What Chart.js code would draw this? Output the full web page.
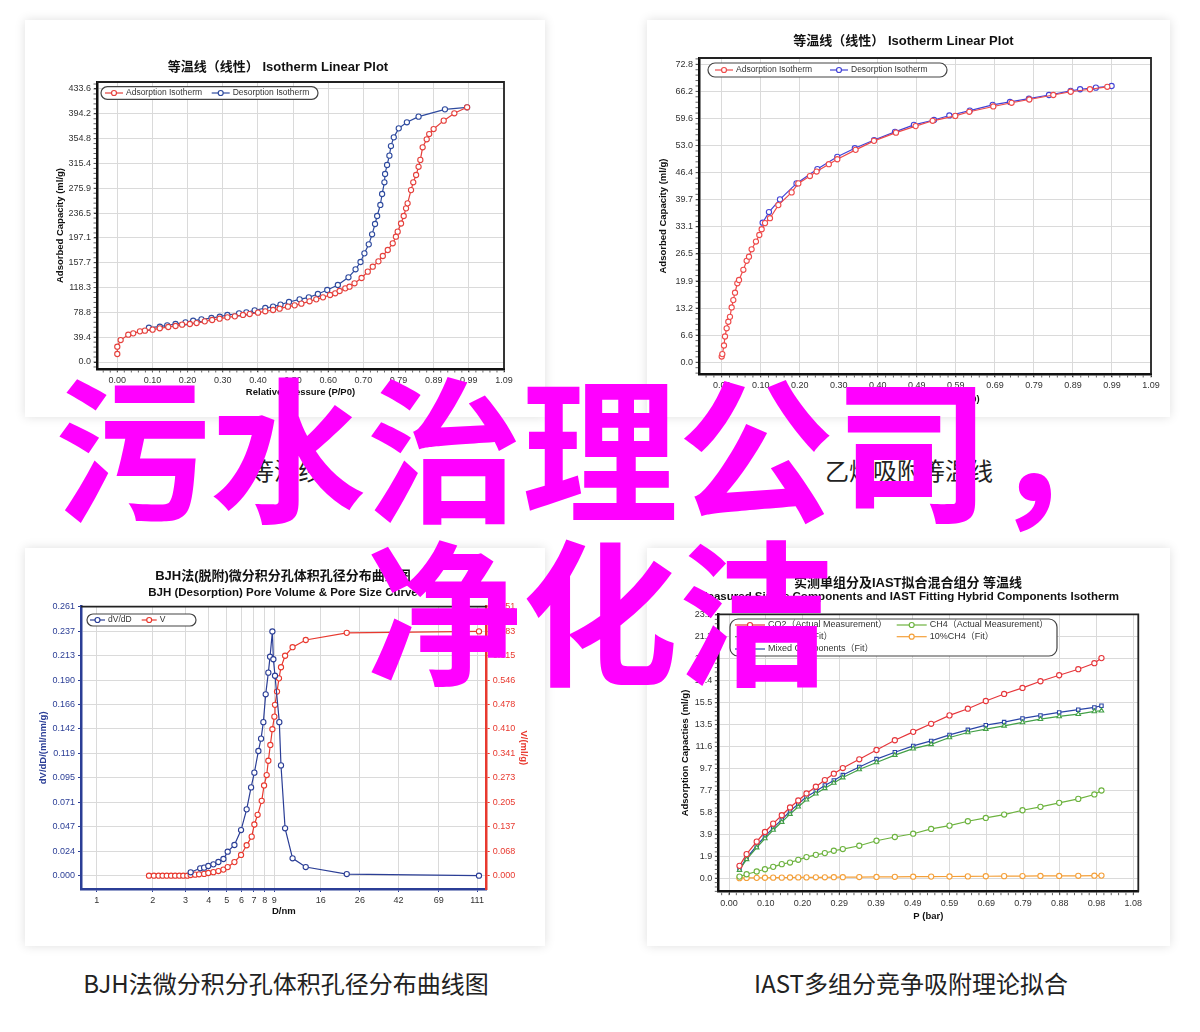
<!DOCTYPE html>
<html>
<head>
<meta charset="utf-8">
<script src="https://cdn.jsdelivr.net/npm/chart.js@4.4.0/dist/chart.umd.min.js"></script>
<style>
  body { margin: 0; width: 1200px; height: 1032px; background: #fff; position: relative; overflow: hidden; }
  .card { position: absolute; background: #fff; box-shadow: 0 0 10px rgba(0,0,0,0.13); }
  .card canvas { position: absolute; left: 0; top: 0; }
  .cap { position: absolute; width: 520px; text-align: center; font: 24px/30px 'Noto Sans CJK SC', sans-serif; color: #222; }
  .big { position: absolute; left: 0; top: 361px; width: 1200px; text-align: center; white-space: nowrap;
         font: bold 156px/163px 'Noto Sans CJK SC', sans-serif; color: #ff00ff; z-index: 5; }
</style>
</head>
<body>
<div class="card" style="left:25px;top:20px;width:520px;height:397px"><canvas id="iso1" width="520" height="397"></canvas></div>
<div class="card" style="left:647px;top:20px;width:523px;height:397px"><canvas id="iso2" width="523" height="397"></canvas></div>
<div class="card" style="left:25px;top:548px;width:520px;height:398px"><canvas id="bjh" width="520" height="398"></canvas></div>
<div class="card" style="left:647px;top:548px;width:523px;height:398px"><canvas id="iast" width="523" height="398"></canvas></div>

<div class="cap" style="left:26px;top:455px">等温线</div>
<div class="cap" style="left:649px;top:455px">乙烯吸附等温线</div>
<div class="cap" style="left:26px;top:968px">BJH法微分积分孔体积孔径分布曲线图</div>
<div class="cap" style="left:651px;top:968px">IAST多组分竞争吸附理论拟合</div>

<div class="big">污水治理公司，<br>净化洁</div>

<script>
const FONT = "'Liberation Sans', 'Noto Sans CJK SC', Arial, sans-serif";
Chart.defaults.font.family = FONT;

// ---- chart 1: isotherm linear plot (left top)
const iso1XTicks = ['0.00','0.10','0.20','0.30','0.40','0.50','0.60','0.70','0.79','0.89','0.99','1.09'];
const iso1YTicks = ['0.0','39.4','78.8','118.3','157.7','197.1','236.5','275.9','315.4','354.8','394.2','433.6'];
const iso1AdsP = [0.000,0.000,0.0095,0.031,0.045,0.064,0.078,0.0997,0.120,0.144,0.1645,0.183,0.205,0.224,0.247,0.268,0.289,0.311,0.332,0.355,0.374,0.3975,0.418,0.440,0.4586,0.482,0.501,0.520,0.543,0.562,0.581,0.601,0.6155,0.628,0.644,0.656,0.670,0.690,0.7075,0.7216,0.7376,0.750,0.764,0.778,0.787,0.792,0.8015,0.809,0.8156,0.820,0.8297,0.836,0.844,0.851,0.856,0.8625,0.874,0.881,0.8935,0.922,0.952,0.988];
const iso1AdsV = [12.7,24.3,34.9,43.4,45.5,48.7,49.8,51.4,53.5,55.6,57.2,59.3,60.4,61.9,64.6,66.7,68.8,70.9,72.5,74.7,76.2,78.4,80.5,82.6,84.7,87.9,90.0,92.7,96.4,99.5,102.7,106.4,109.1,112.8,117.0,119.6,125.0,133.4,143.5,151.4,159.9,168.4,177.9,188.5,199.0,207.0,220.0,231.9,244.0,252.0,273.0,285.4,297.0,310.0,321.0,341.0,353.7,362.0,370.0,383.3,395.0,404.5];
const iso1DesP = [0.0893,0.1203,0.141,0.1645,0.1927,0.2143,0.2378,0.266,0.2895,0.311,0.344,0.3646,0.388,0.418,0.440,0.461,0.485,0.515,0.541,0.5666,0.593,0.623,0.653,0.673,0.687,0.698,0.7103,0.7197,0.728,0.734,0.743,0.748,0.7545,0.7564,0.762,0.7686,0.773,0.781,0.795,0.818,0.851,0.9255,0.988];
const iso1DesV = [54.5,56.1,58.2,60.4,63.0,65.6,67.8,69.9,72.0,74.7,77.3,78.9,82.1,85.8,87.9,91.1,95.3,99.5,102.7,108.0,114.4,122.3,134.5,147.2,158.8,172.6,186.9,202.8,219.2,231.9,249.4,266.8,285.4,298.6,312.9,327.7,343.0,356.8,371.1,380.7,389.7,401.3,404.5];

// ---- chart 2: isotherm linear plot (right top)
const iso2XTicks = ['0.00','0.10','0.20','0.30','0.40','0.49','0.59','0.69','0.79','0.89','0.99','1.09'];
const iso2YTicks = ['0.0','6.6','13.2','19.9','26.5','33.1','39.7','46.4','53.0','59.6','66.2','72.8'];
const iso2AdsP = [0.000,0.0016,0.0058,0.0084,0.0126,0.0168,0.021,0.0253,0.0295,0.0338,0.0397,0.044,0.055,0.0634,0.0693,0.076,0.087,0.0955,0.1015,0.11,0.1226,0.1438,0.1776,0.1945,0.224,0.241,0.272,0.2935,0.34,0.3867,0.4425,0.4924,0.5356,0.593,0.6287,0.6896,0.736,0.781,0.842,0.886,0.935,0.979];
const iso2AdsV = [1.4,2.0,4.1,6.3,8.3,9.9,11.1,13.4,15.2,17.0,19.3,20.1,22.6,24.8,25.8,27.6,29.5,31.1,32.5,34.0,35.2,38.4,41.5,43.7,45.5,46.6,48.4,49.6,51.9,54.1,56.1,57.7,59.0,60.2,61.2,62.5,63.4,64.2,65.3,66.1,66.7,67.3];
const iso2DesP = [0.104,0.12,0.148,0.19,0.243,0.2935,0.338,0.387,0.44,0.488,0.539,0.578,0.63,0.688,0.732,0.78,0.831,0.886,0.91,0.95,0.99];
const iso2DesV = [34.1,36.7,39.8,43.7,47.2,50.2,52.3,54.3,56.3,58.0,59.2,60.3,61.5,62.9,63.6,64.4,65.3,66.3,66.7,67.1,67.5];

// ---- chart 3: BJH pore distribution
const bjhXTicks = [1,2,3,4,5,6,7,8,9,16,26,42,69,111];
const bjhYTicks = ['0.000','0.024','0.047','0.071','0.095','0.119','0.142','0.166','0.190','0.213','0.237','0.261'];
const bjhY2Ticks = ['0.000','0.068','0.137','0.205','0.273','0.341','0.410','0.478','0.546','0.615','0.683','0.751'];
const bjhDvD = [3.2,3.6,3.78,3.98,4.24,4.51,4.8,5.06,5.5,5.97,6.4,6.76,7.04,7.4,7.65,7.87,8.1,8.37,8.55,8.8,8.91,9.09,9.59,9.79,10.3,11.3,13.3,22.1,113.6];
const bjhDvV = [0.0033,0.0072,0.0078,0.0094,0.011,0.0133,0.0162,0.0233,0.0298,0.0443,0.0644,0.0857,0.100,0.121,0.133,0.149,0.176,0.197,0.2125,0.237,0.210,0.194,0.149,0.107,0.046,0.0169,0.0084,0.0016,0.000];
const bjhVD = [1.91,2.03,2.15,2.26,2.38,2.51,2.64,2.78,2.92,3.07,3.2,3.38,3.55,3.78,3.98,4.24,4.51,4.8,5.06,5.5,5.97,6.4,6.81,7.04,7.33,7.71,7.94,8.2,8.37,8.58,8.8,9.02,9.09,9.32,9.55,9.79,10.3,11.3,13.3,22.1,113.6];
const bjhVV = [0,0,0,0,0,0,0,0,0,0,0.002,0.003,0.004,0.005,0.0075,0.010,0.013,0.017,0.024,0.038,0.058,0.085,0.109,0.143,0.170,0.209,0.252,0.281,0.321,0.365,0.409,0.444,0.477,0.514,0.551,0.582,0.614,0.638,0.658,0.678,0.682];

// ---- chart 4: IAST
const iastXTicks = ['0.00','0.10','0.20','0.29','0.39','0.49','0.59','0.69','0.79','0.88','0.98','1.08'];
const iastYTicks = ['0.0','1.9','3.9','5.8','7.7','9.7','11.6','13.5','15.5','17.4','19.3','21.3','23.2'];
const iastP = [0.028,0.047,0.074,0.096,0.118,0.141,0.163,0.185,0.207,0.232,0.256,0.280,0.304,0.348,0.394,0.443,0.492,0.540,0.589,0.638,0.686,0.735,0.784,0.832,0.882,0.933,0.976,0.995];
const iastCO2 = [1.09,2.12,3.22,4.07,4.81,5.55,6.23,6.85,7.47,8.06,8.65,9.21,9.71,10.48,11.3,12.16,12.9,13.61,14.35,14.94,15.62,16.24,16.77,17.36,17.89,18.42,18.95,19.4];
const iastCH4 = [0.14,0.35,0.59,0.79,1.0,1.24,1.38,1.62,1.86,2.06,2.21,2.42,2.57,2.86,3.3,3.63,3.92,4.34,4.63,5.02,5.31,5.61,5.99,6.29,6.64,6.99,7.38,7.73];
const iastCO2Fit = [0.72,1.66,2.7,3.5,4.25,4.95,5.65,6.3,6.92,7.45,7.92,8.4,8.87,9.58,10.2,10.85,11.42,11.8,12.4,12.84,13.14,13.43,13.73,14.02,14.26,14.46,14.7,14.76];
const iastCH4Fit = [0.0,0.02,0.03,0.04,0.05,0.05,0.06,0.07,0.07,0.08,0.08,0.09,0.09,0.10,0.11,0.12,0.13,0.14,0.15,0.16,0.17,0.18,0.19,0.20,0.20,0.21,0.22,0.23];
const iastMixed = [0.79,1.77,2.86,3.69,4.43,5.16,5.9,6.55,7.17,7.67,8.18,8.62,9.09,9.8,10.5,11.1,11.66,12.1,12.63,13.08,13.49,13.76,14.08,14.35,14.61,14.85,15.05,15.2];

/* --- helpers --- */
const even = (labels, top) => labels.map((_, i) => i * top / (labels.length - 1));

function axis(o) {
    return {
        type: o.type || 'linear', position: o.position, min: o.min, max: o.max,
        afterBuildTicks: s => { s.ticks = o.values.map(v => ({ value: v })); },
        afterFit: s => {
            if (s.isHorizontal()) s.height = o.size; else s.width = o.size;
            s.paddingLeft = s.paddingRight = s.paddingTop = s.paddingBottom = 0;
        },
        grid: { drawOnChartArea: o.gridOn !== false, color: '#dadada', lineWidth: 1, tickLength: 3, tickColor: o.line || '#111' },
        border: { display: true, color: o.line || '#111', width: 2.5 },
        ticks: { autoSkip: false, maxRotation: 0, padding: 3, color: o.tickColor || '#333', font: { size: 9 }, callback: (v, i) => o.labels[i] },
        title: { display: true, text: o.title, color: o.titleColor || '#111', font: { size: 9.5, weight: 'bold' }, padding: o.titlePad }
    };
}

function series(label, xs, ys, color, extra) {
    return Object.assign({
        label: label, data: xs.map((x, i) => ({ x: x, y: ys[i] })),
        borderColor: color, backgroundColor: '#fff', pointBackgroundColor: '#fff', pointBorderColor: color,
        pointRadius: 2.6, pointBorderWidth: 1.1, borderWidth: 1.2, showLine: true, tension: 0, pointStyle: 'circle'
    }, extra || {});
}

const frame = {
    id: 'frame',
    beforeDatasetsDraw(chart, args, o) {
        const { ctx, chartArea: a } = chart;
        ctx.save(); ctx.strokeStyle = o.color || '#222'; ctx.lineWidth = 1.8;
        ctx.beginPath(); ctx.moveTo(a.left, a.top); ctx.lineTo(a.right, a.top);
        if (o.right !== false) ctx.lineTo(a.right, a.bottom);
        ctx.stroke(); ctx.restore();
    }
};

const minorTicks = {
    id: 'minorTicks',
    afterDraw(chart, args, o) {
        const { ctx, chartArea: a } = chart;
        ctx.save(); ctx.strokeStyle = '#666'; ctx.lineWidth = 1;
        Object.keys(o.scales || {}).forEach(id => {
            const s = chart.scales[id], n = o.scales[id];
            const step = (s.ticks[1].value - s.ticks[0].value) / n;
            let v = s.ticks[0].value;
            while (v - step >= s.min) v -= step;
            ctx.beginPath();
            for (; v <= s.max + 1e-9; v += step) {
                const p = s.getPixelForValue(v);
                if (s.isHorizontal()) { ctx.moveTo(p, a.bottom + 1); ctx.lineTo(p, a.bottom + 3.5); }
                else { ctx.moveTo(a.left - 3.5, p); ctx.lineTo(a.left - 1, p); }
            }
            ctx.stroke();
        });
        ctx.restore();
    }
};

const boxLegend = {
    id: 'boxLegend',
    afterDatasetsDraw(chart, args, o) {
        if (!o.items) return;
        const { ctx, chartArea: a } = chart;
        const x0 = a.left + o.x, y0 = a.top + o.y;
        ctx.save();
        ctx.fillStyle = '#fff'; ctx.strokeStyle = '#444'; ctx.lineWidth = 1.2;
        ctx.beginPath();
        if (ctx.roundRect) ctx.roundRect(x0, y0, o.w, o.h, o.r); else ctx.rect(x0, y0, o.w, o.h);
        ctx.fill(); ctx.stroke();
        ctx.font = (o.size || 8.5) + 'px ' + FONT; ctx.textBaseline = 'middle';
        o.items.forEach(it => {
            const ds = chart.data.datasets[it.ds];
            const lx = x0 + it.x, ly = y0 + it.y;
            ctx.strokeStyle = ds.borderColor; ctx.lineWidth = 1.2;
            ctx.beginPath(); ctx.moveTo(lx, ly); ctx.lineTo(lx + o.line, ly); ctx.stroke();
            ctx.fillStyle = '#fff';
            Chart.helpers.drawPoint(ctx, { pointStyle: ds.pointStyle, radius: 2.5, borderWidth: 1 }, lx + o.line / 2, ly);
            ctx.fillStyle = '#333';
            ctx.fillText(ds.label, lx + o.line + 3, ly);
        });
        ctx.restore();
    }
};

const titleText = {
    id: 'titleText',
    afterDraw(chart, args, o) {
        const ctx = chart.ctx;
        ctx.save(); ctx.textAlign = 'center'; ctx.textBaseline = 'middle'; ctx.fillStyle = '#111';
        (o.lines || []).forEach(l => { ctx.font = 'bold ' + l.size + 'px ' + FONT; ctx.fillText(l.text, l.x, l.y); });
        ctx.restore();
    }
};

function base(padding, scales, plugins) {
    return {
        responsive: false, animation: false,
        layout: { padding: padding },
        scales: scales,
        plugins: Object.assign({ legend: { display: false }, tooltip: { enabled: false } }, plugins)
    };
}
const PLUGS = [frame, minorTicks, boxLegend, titleText];

/* --- CHART 1 --- */
new Chart(document.getElementById('iso1'), {
    type: 'scatter',
    data: { datasets: [
        series('Adsorption Isotherm', iso1AdsP, iso1AdsV, '#e5403c'),
        series('Desorption Isotherm', iso1DesP, iso1DesV, '#2e4a9e')
    ] },
    options: base({ top: 62, right: 41, left: 0, bottom: 0 }, {
        x: axis({ position: 'bottom', min: -0.0573, max: 1.0923, values: even(iso1XTicks, 1.0923), labels: iso1XTicks, size: 48,
                  title: 'Relative Pressure (P/P0)', titlePad: { bottom: 18.6 } }),
        y: axis({ position: 'left', min: -11.1, max: 444.7, values: even(iso1YTicks, 433.6), labels: iso1YTicks, size: 72,
                  title: 'Adsorbed Capacity (ml/g)', titlePad: { top: 29.6 } })
    }, {
        frame: {}, minorTicks: { scales: { x: 5, y: 5 } },
        boxLegend: { x: 4, y: 4.7, w: 217, h: 12.6, r: 6.3, line: 18, items: [{ ds: 0, x: 4, y: 6.3 }, { ds: 1, x: 110.7, y: 6.3 }] },
        titleText: { lines: [{ text: '等温线（线性） Isotherm Linear Plot', x: 253, y: 47.7, size: 13 }] }
    }),
    plugins: PLUGS
});

/* --- CHART 2 --- */
new Chart(document.getElementById('iso2'), {
    type: 'scatter',
    data: { datasets: [
        series('Adsorption Isotherm', iso2AdsP, iso2AdsV, '#ee4a4a'),
        series('Desorption Isotherm', iso2DesP, iso2DesV, '#4343d6')
    ] },
    options: base({ top: 38, right: 19, left: 0, bottom: 0 }, {
        x: axis({ position: 'bottom', min: -0.0576, max: 1.09, values: even(iso2XTicks, 1.09), labels: iso2XTicks, size: 43,
                  title: 'Relative Pressure (P/P0)', titlePad: { bottom: 11.6 } }),
        y: axis({ position: 'left', min: -2.86, max: 74.34, values: even(iso2YTicks, 72.8), labels: iso2YTicks, size: 52,
                  title: 'Adsorbed Capacity (ml/g)', titlePad: { top: 10.3 } })
    }, {
        frame: {}, minorTicks: { scales: { x: 5, y: 5 } },
        boxLegend: { x: 9, y: 5, w: 239, h: 14, r: 7, line: 18, items: [{ ds: 0, x: 7, y: 7 }, { ds: 1, x: 122, y: 7 }] },
        titleText: { lines: [{ text: '等温线（线性） Isotherm Linear Plot', x: 256.5, y: 21.7, size: 13 }] }
    }),
    plugins: PLUGS
});

/* --- CHART 3 --- */
const BJH_BLUE = '#2b3e96', BJH_RED = '#e8392f';
new Chart(document.getElementById('bjh'), {
    type: 'scatter',
    data: { datasets: [
        series('dV/dD', bjhDvD, bjhDvV, BJH_BLUE, { yAxisID: 'y' }),
        series('V', bjhVD, bjhVV, BJH_RED, { yAxisID: 'y1' })
    ] },
    options: base({ top: 58.7, right: 0, left: 0, bottom: 0 }, {
        x: axis({ type: 'logarithmic', position: 'bottom', min: 0.823, max: 125, values: bjhXTicks, labels: bjhXTicks.map(String), size: 57,
                  line: BJH_BLUE, title: 'D/nm', titlePad: { bottom: 28.9 } }),
        y: axis({ position: 'left', min: -0.0129, max: 0.261, values: even(bjhYTicks, 0.261), labels: bjhYTicks, size: 56,
                  line: BJH_BLUE, tickColor: BJH_BLUE, titleColor: BJH_BLUE, title: 'dV/dD/(ml/nm/g)', titlePad: { top: 12.6 } }),
        y1: axis({ position: 'right', min: -0.0371, max: 0.751, values: even(bjhY2Ticks, 0.751), labels: bjhY2Ticks, size: 58.3, gridOn: false,
                  line: BJH_RED, tickColor: BJH_RED, titleColor: BJH_RED, title: 'V/(ml/g)', titlePad: { top: 15.6 } })
    }, {
        frame: { right: false },
        boxLegend: { x: 6, y: 7.3, w: 109, h: 12, r: 6, line: 15, items: [{ ds: 0, x: 3, y: 6 }, { ds: 1, x: 54.7, y: 6 }] },
        titleText: { lines: [
            { text: 'BJH法(脱附)微分积分孔体积孔径分布曲线图', x: 258, y: 28, size: 13 },
            { text: 'BJH (Desorption) Pore Volume & Pore Size Curve', x: 258, y: 44.7, size: 11.5 }
        ] }
    }),
    plugins: PLUGS
});

/* --- CHART 4 --- */
new Chart(document.getElementById('iast'), {
    type: 'scatter',
    data: { datasets: [
        series('CO2（Actual Measurement）', iastP, iastCO2, '#e6363b'),
        series('CH4（Actual Measurement）', iastP, iastCH4, '#6db33f'),
        series('90%CO2（Fit）', iastP, iastCO2Fit, '#43a047', { pointStyle: 'triangle' }),
        series('10%CH4（Fit）', iastP, iastCH4Fit, '#f4a03a'),
        series('Mixed Components（Fit）', iastP, iastMixed, '#2a45a6', { pointStyle: 'rect', pointRadius: 2.4 })
    ] },
    options: base({ top: 66.3, right: 31.7, left: 0, bottom: 0 }, {
        x: axis({ position: 'bottom', min: -0.0286, max: 1.0934, values: even(iastXTicks, 1.08), labels: iastXTicks, size: 54.3,
                  title: 'P (bar)', titlePad: { bottom: 23.9 } }),
        y: axis({ position: 'left', min: -1.19, max: 23.26, values: even(iastYTicks, 23.2), labels: iastYTicks, size: 71.3,
                  title: 'Adsorption Capacties (ml/g)', titlePad: { top: 32.6 } })
    }, {
        frame: {}, minorTicks: { scales: { x: 5, y: 5 } },
        boxLegend: { x: 11.7, y: 4.7, w: 327, h: 37, r: 8, line: 30, size: 9, items: [
            { ds: 0, x: 5, y: 6 }, { ds: 1, x: 166.7, y: 6 },
            { ds: 2, x: 5, y: 17.7 }, { ds: 3, x: 166.7, y: 17.7 },
            { ds: 4, x: 5, y: 30 }
        ] },
        titleText: { lines: [
            { text: '实测单组分及IAST拟合混合组分 等温线', x: 261, y: 35, size: 13 },
            { text: 'Measured Single Components and IAST Fitting Hybrid Components Isotherm', x: 261.5, y: 49, size: 11.5 }
        ] }
    }),
    plugins: PLUGS
});
</script>
</body>
</html>
